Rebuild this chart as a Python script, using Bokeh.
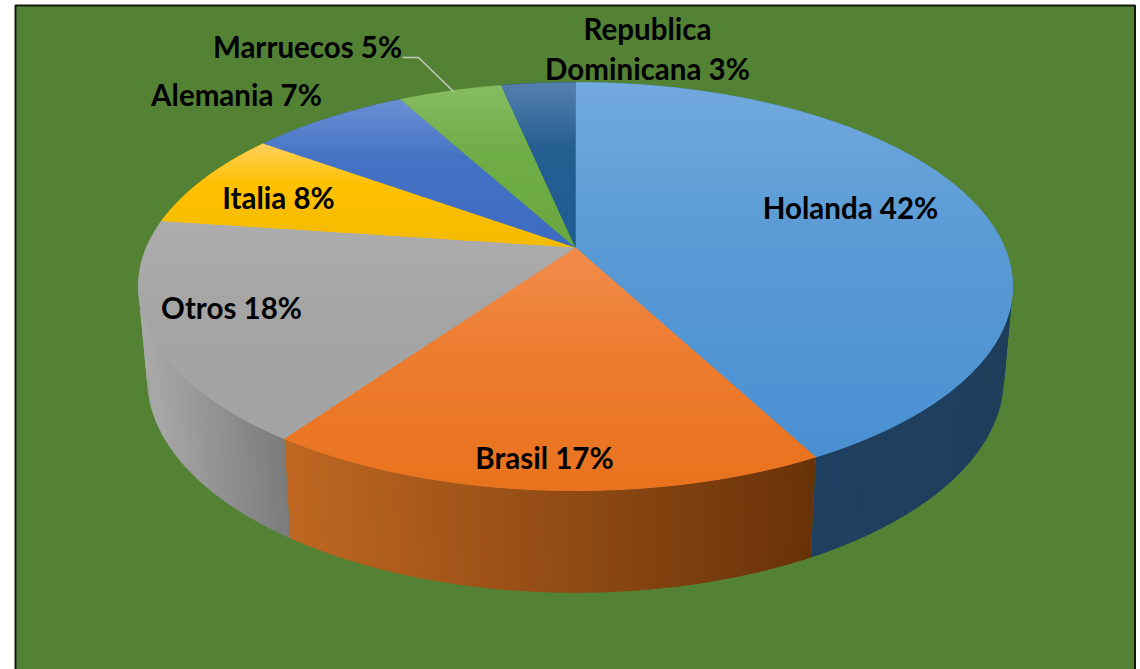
import math
from bokeh.plotting import figure
from bokeh.core.properties import value
from bokeh.embed import file_html
from bokeh.resources import INLINE

# ---- chart data (share of each country, %) ----
countries = ["Holanda", "Brasil", "Otros", "Italia", "Alemania", "Marruecos", "Republica Dominicana"]
shares = [42.3, 17.4, 17.5, 7.8, 7.1, 4.6, 3.3]
labels = ["Holanda 42%", "Brasil 17%", "Otros 18%", "Italia 8%", "Alemania 7%", "Marruecos 5%",
          "Republica\nDominicana 3%"]

# ---- styles ----
top_light = ["#72a9de", "#f28c4c", "#adadad", "#ffd05c", "#6b90d4", "#86bc62", "#5580ae"]
top_base = ["#5b9bd5", "#ed7d31", "#a5a5a5", "#ffc000", "#4472c4", "#70ad47", "#255e91"]
top_dark = ["#4a90d2", "#e9721c", "#a3a3a3", "#f3bc00", "#3c6bc0", "#6aa83e", "#1f5b92"]
wall_left = ["#1f4060", "#bf6722", "#aaaaaa", "#aaaaaa", "#aaaaaa", "#aaaaaa", "#aaaaaa"]
wall_right = ["#1e3e5c", "#683208", "#7b7b7b", "#7b7b7b", "#7b7b7b", "#7b7b7b", "#7b7b7b"]
GREEN = "#548235"
label_pos = [(850, 207), (544, 457), (231, 307), (278, 197), (236, 94), (307, 46), (647, 48)]
leader_x = [402, 418, 453]
leader_y = [57, 57, 91]

# ---- pie projection ----
CX, AY = 575.0, 247.0
RX, RY, K = 429.0, 196.6, 0.191
BOT_S, BOT_SY, BOT_Y = 0.98, 1.05, 337.0


def top_pt(th):
    u, v = math.sin(th), math.cos(th)
    w = 1 + K * v
    return CX + RX * u / w, AY - RY * v / w


def bot_pt(th):
    x, y = top_pt(th)
    return CX + BOT_S * (x - CX), BOT_Y + BOT_SY * (y - AY)


def hex2rgb(c):
    return tuple(int(c[i:i + 2], 16) for i in (1, 3, 5))


def mix(a, b, t):
    t = max(0.0, min(1.0, t))
    ra, rb = hex2rgb(a), hex2rgb(b)
    return "#%02x%02x%02x" % tuple(round(ra[i] + (rb[i] - ra[i]) * t) for i in range(3))


def clip(poly, yv, keep_above):
    out = []
    n = len(poly)
    for i in range(n):
        p, q = poly[i], poly[(i + 1) % n]
        inp = p[1] >= yv if keep_above else p[1] <= yv
        inq = q[1] >= yv if keep_above else q[1] <= yv
        if inp:
            out.append(p)
        if inp != inq:
            t = (yv - p[1]) / (q[1] - p[1])
            out.append((p[0] + t * (q[0] - p[0]), yv))
    return out


p = figure(width=1140, height=669, x_range=(0, 1140), y_range=(669, 0), output_backend="svg",
           toolbar_location=None, min_border=0, outline_line_color=None, background_fill_color="white",
           border_fill_color="white")
p.axis.visible = False
p.grid.visible = False

# panel
p.quad(left=15, right=1134.5, top=5, bottom=680, fill_color=GREEN, line_color="#101808", line_width=2)

cum = [0.0]
for s in shares:
    cum.append(cum[-1] + s)
total = cum[-1]
angles = [c / total * 2 * math.pi for c in cum]

# side wall strips (each overlaps the next, painted in order, so no seams show)
WALL_A, WALL_B = math.radians(93), math.radians(267)
xs, ys, cols = [], [], []
for i in range(len(shares)):
    a0, a1 = max(angles[i], WALL_A), min(angles[i + 1], WALL_B)
    if a1 <= a0:
        continue
    x0, x1 = sorted((top_pt(a0)[0], top_pt(a1)[0]))
    n = max(2, int((a1 - a0) / math.radians(0.8)))
    for j in range(n):
        t0 = a0 + (a1 - a0) * j / n
        t1 = a0 + (a1 - a0) * (j + 1.6) / n if j < n - 1 else a1
        A, B, C, D = top_pt(t0), top_pt(t1), bot_pt(t1), bot_pt(t0)
        xs.append([A[0], B[0], C[0], D[0]])
        ys.append([A[1], B[1], C[1], D[1]])
        xm = (top_pt(a0 + (a1 - a0) * (j + 0.5) / n)[0])
        cols.append(mix(wall_left[i], wall_right[i], (xm - x0) / (x1 - x0)))
p.patches(xs, ys, fill_color=cols, line_color=None)

# top face: solid underlay, then overlapping gradient bands
ux, uy, ucol = [], [], []
xs, ys, cols = [], [], []
STEP = 4
for i in range(len(shares)):
    a0, a1 = angles[i], angles[i + 1]
    n = max(4, int((a1 - a0) / math.radians(0.5)))
    poly = [(CX, AY)] + [top_pt(a0 + (a1 - a0) * j / n) for j in range(n + 1)]
    ux.append([q[0] for q in poly])
    uy.append([q[1] for q in poly])
    ucol.append(top_base[i])
    ymin = min(q[1] for q in poly)
    ymax = max(q[1] for q in poly)
    yb = ymin
    while yb < ymax:
        band = clip(clip(poly, yb, True), yb + STEP + 1.5, False)
        if len(band) >= 3:
            t = (yb + STEP / 2 - ymin) / (ymax - ymin)
            col = mix(top_light[i], top_base[i], t / 0.4) if t < 0.4 else mix(top_base[i], top_dark[i], (t - 0.4) / 0.6)
            xs.append([q[0] for q in band])
            ys.append([q[1] for q in band])
            cols.append(col)
        yb += STEP
p.patches(ux, uy, fill_color=ucol, line_color=ucol, line_width=0.8)
p.patches(xs, ys, fill_color=cols, line_color=None)

# leader line
p.line(leader_x, leader_y, line_color="#c3cbbf", line_width=1.5)

# labels
p.text(x=[q[0] for q in label_pos], y=[q[1] for q in label_pos], text=labels, text_align="center",
       text_baseline="middle", text_font=value("Lato"), text_font_style="bold",
       text_font_size="29.5px", text_color="#000000", text_line_height=1.12)

open("out.html", "w").write(file_html(p, INLINE))
